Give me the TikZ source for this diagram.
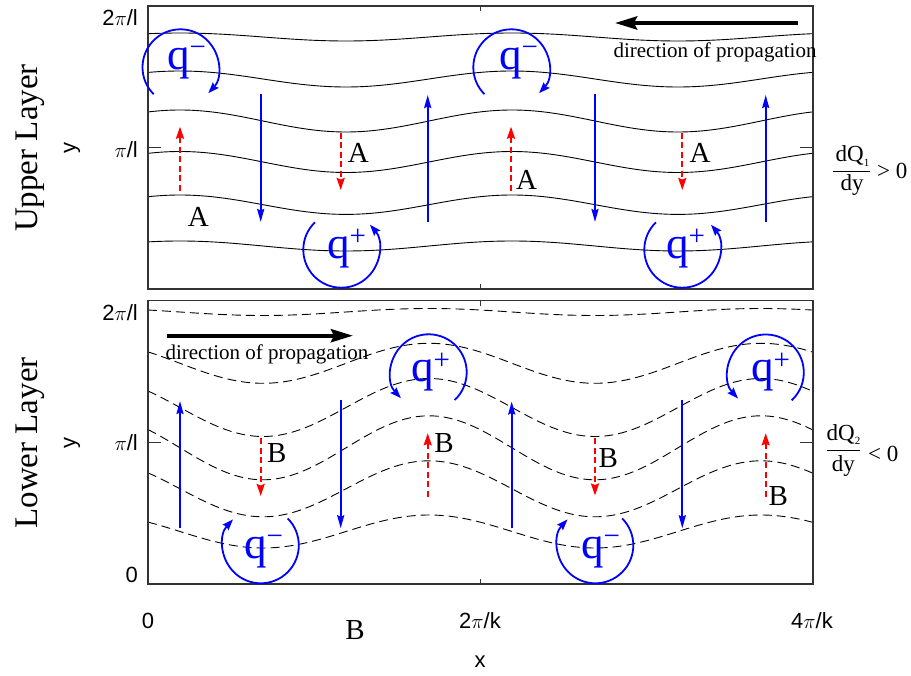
\documentclass[tikz,border=0pt]{standalone}
\usepackage{fontspec}
\setmainfont{Liberation Serif}
\newfontfamily\labsans{Liberation Sans}
\usetikzlibrary{arrows.meta}
\begin{document}
\begin{tikzpicture}[x=1pt,y=-1pt,
  frame/.style={draw=black!80, line width=1.4pt},
  tickmark/.style={draw=black!80, line width=1pt},
  wave/.style={black, line width=0.9pt},
  dwave/.style={black, line width=0.9pt, dash pattern=on 9pt off 5pt},
  flow/.style={blue, line width=2pt, -{Stealth[length=13pt,width=7pt,inset=1.5pt]}},
  vel/.style={red, line width=2pt, dash pattern=on 6pt off 3.5pt, -{Stealth[length=12pt,width=8pt,inset=1.5pt]}},
  qarc/.style={blue, line width=1.8pt, -{Stealth[length=11pt,width=8pt,inset=1.5pt]}},
  dirarrow/.style={black, line width=4pt, -{Stealth[length=22pt,width=13pt,inset=3pt]}},
  albl/.style={inner sep=0pt, font=\fontsize{29}{29}\selectfont},
  qlbl/.style={inner sep=0pt, anchor=base west, text=blue, font=\fontsize{45}{45}\selectfont},
  dirlbl/.style={inner sep=0pt, font=\fontsize{21}{21}\selectfont},
  rlbl/.style={inner sep=0pt, font=\fontsize{23}{23}\selectfont},
  layerlbl/.style={inner sep=0pt, rotate=90, font=\fontsize{33}{33}\selectfont},
  ticklbl/.style={inner sep=0pt, font=\labsans\fontsize{22}{22}\selectfont},
]
\newcommand{\qsup}[1]{\raisebox{13pt}{\fontsize{29}{29}\selectfont #1}}
\newcommand{\subsc}[1]{\raisebox{-5pt}{\fontsize{11}{11}\selectfont #1}}
\useasboundingbox (0,0) rectangle (911,676);

% ---------- upper layer streamlines ----------
\foreach \m/\a in {37/4, 79/8, 121/11, 162/10.5, 204.7/9.7, 246/5}{
  \draw[wave] plot[domain=148:813, samples=120, smooth] (\x, {\m - \a*cos((\x-180)*1.084337)});
}
% ---------- lower layer streamlines ----------
\foreach \m/\a in {312/3.5, 363.3/20, 407.5/29, 447.8/32, 488.8/28, 531.5/16.5}{
  \draw[dwave] plot[domain=148:813, samples=120, smooth] (\x, {\m - \a*cos((\x-429)*1.084337)});
}

% ---------- frames and ticks ----------
\draw[frame] (148,6) rectangle (813,289);
\draw[frame] (148,300.7) rectangle (813,584);
\draw[tickmark] (148,147.7) -- (161,147.7);
\draw[tickmark] (813,147.7) -- (800,147.7);
\draw[tickmark] (480.5,6) -- (480.5,11);
\draw[tickmark] (480.5,289) -- (480.5,284);
\draw[tickmark] (148,442.3) -- (161,442.3);
\draw[tickmark] (813,442.3) -- (800,442.3);
\draw[tickmark] (480.5,300.7) -- (480.5,306);
\draw[tickmark] (480.5,584) -- (480.5,579);

% ---------- upper layer meridional flow ----------
\draw[flow] (260.7,94.5) -- (260.7,222);
\draw[flow] (427.7,222.5) -- (427.7,95);
\draw[flow] (595,94.5) -- (595,222);
\draw[flow] (765.7,222.5) -- (765.7,95);
\draw[vel] (180,190.7) -- (180,126.7);
\draw[vel] (340.7,133) -- (340.7,190);
\draw[vel] (511,190.7) -- (511,126.7);
\draw[vel] (682.3,133) -- (682.3,190);

% ---------- lower layer meridional flow ----------
\draw[flow] (180,528.3) -- (180,401);
\draw[flow] (340.7,400) -- (340.7,528.3);
\draw[flow] (511.7,528.3) -- (511.7,401.5);
\draw[flow] (682.3,400) -- (682.3,528.3);
\draw[vel] (260.7,438) -- (260.7,496);
\draw[vel] (427.7,496.7) -- (427.7,433.3);
\draw[vel] (595,438.3) -- (595,495.5);
\draw[vel] (765.7,496.7) -- (765.7,433.3);

% ---------- vortices ----------
\draw[qarc] (180.5,67.3) ++(225:38pt) arc[start angle=225, end angle=-43, radius=38pt];
\draw[qarc] (511.3,67.3) ++(225:38pt) arc[start angle=225, end angle=-43, radius=38pt];
\draw[qarc] (341.3,249.7) ++(134:38pt) arc[start angle=134, end angle=401, radius=38pt];
\draw[qarc] (682.3,249.7) ++(134:38pt) arc[start angle=134, end angle=401, radius=38pt];
\draw[qarc] (428.7,372.3) ++(-47:38pt) arc[start angle=-47, end angle=223, radius=38pt];
\draw[qarc] (765.8,372.5) ++(-47:38pt) arc[start angle=-47, end angle=223, radius=38pt];
\draw[qarc] (260.8,545.3) ++(45:38pt) arc[start angle=45, end angle=-223, radius=38pt];
\draw[qarc] (595.3,545.3) ++(45:38pt) arc[start angle=45, end angle=-223, radius=38pt];

\node[qlbl] (qm1) at (167,70) {q\qsup{−}};
\node[qlbl] (qm2) at (499,70) {q\qsup{−}};
\node[qlbl] (qp1) at (327,259) {q\qsup{+}};
\node[qlbl] (qp2) at (666,259) {q\qsup{+}};
\node[qlbl] (qp3) at (411,382) {q\qsup{+}};
\node[qlbl] (qp4) at (751,382) {q\qsup{+}};
\node[qlbl] (qm3) at (244,558) {q\qsup{−}};
\node[qlbl] (qm4) at (581,558) {q\qsup{−}};

% ---------- A / B labels ----------
\node[albl] (A1) at (198.3,216.7) {A};
\node[albl] (A2) at (358.3,153.3) {A};
\node[albl] (A3) at (526.7,180) {A};
\node[albl] (A4) at (700,153.3) {A};
\node[albl] (B1) at (276.7,453.3) {B};
\node[albl] (B2) at (444,442.7) {B};
\node[albl] (B3) at (608.3,457.7) {B};
\node[albl] (B4) at (778.3,496) {B};
\node[albl] (B5) at (355,630) {B};

% ---------- propagation ----------
\coordinate (dU0) at (798,23);
\coordinate (dU1) at (615,23);
\draw[dirarrow] (dU0) -- (dU1);
\node[dirlbl] (dirU) at (715,52) {direction of propagation};
\coordinate (dL0) at (167,335.7);
\coordinate (dL1) at (353,335.7);
\draw[dirarrow] (dL0) -- (dL1);
\node[dirlbl] (dirL) at (267,354) {direction of propagation};

% ---------- gradient labels ----------
\node[rlbl, anchor=base west] (dq1) at (835.5,162) {dQ\subsc{1}};
\coordinate (bar1a) at (833,171.7);
\coordinate (bar1b) at (870,171.7);
\draw[line width=1pt] (bar1a) -- (bar1b);
\node[rlbl, anchor=base] (dy1) at (852,191) {dy};
\node[rlbl, anchor=base west] (gt) at (877,179) {> 0};

\node[rlbl, anchor=base west] (dq2) at (826.5,440) {dQ\subsc{2}};
\coordinate (bar2a) at (826.7,450.7);
\coordinate (bar2b) at (860,450.7);
\draw[line width=1pt] (bar2a) -- (bar2b);
\node[rlbl, anchor=base] (dy2) at (843.3,471.7) {dy};
\node[rlbl, anchor=base west] (lt) at (868,461.7) {< 0};

% ---------- axis labels ----------
\node[layerlbl] (UL) at (30,148) {Upper Layer};
\node[layerlbl] (LL) at (30,443) {Lower Layer};
\node[ticklbl, rotate=90] (yU) at (72,148) {y};
\node[ticklbl, rotate=90] (yL) at (72,443) {y};
\node[ticklbl, anchor=east] (t1) at (138,18) {2$\pi$/l};
\node[ticklbl, anchor=east] (t2) at (138,150) {$\pi$/l};
\node[ticklbl, anchor=east] (t3) at (138,313) {2$\pi$/l};
\node[ticklbl, anchor=east] (t4) at (138,443) {$\pi$/l};
\node[ticklbl, anchor=east] (t5) at (138,575) {0};
\node[ticklbl] (x0) at (148,621) {0};
\node[ticklbl] (x1) at (480,621) {2$\pi$/k};
\node[ticklbl] (x2) at (812,621) {4$\pi$/k};
\node[ticklbl] (xl) at (480,662) {x};
\end{tikzpicture}
\end{document}
